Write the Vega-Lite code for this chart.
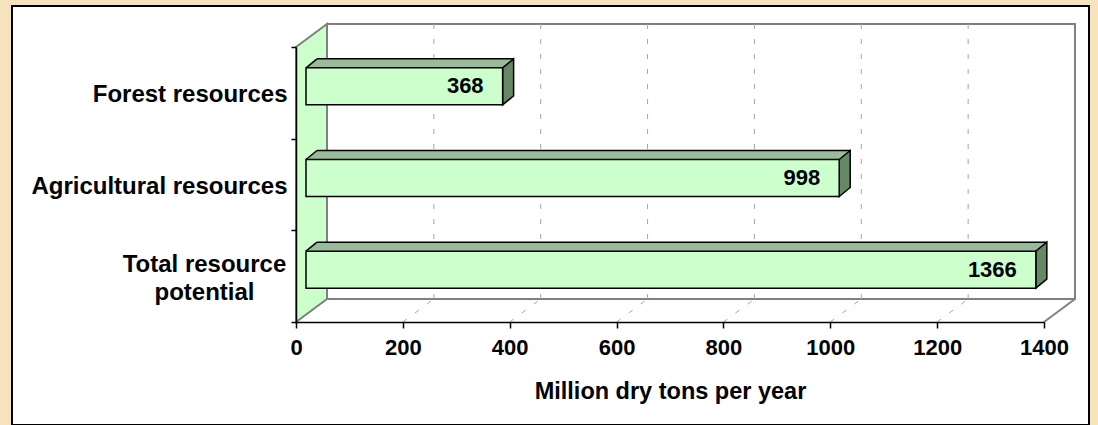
{
  "$schema": "https://vega.github.io/schema/vega-lite/v6.json",
  "width": 1077,
  "height": 419,
  "autosize": {"type": "none"},
  "padding": {"left": 12, "top": 6, "right": 9, "bottom": 0},
  "background": "#f6e2bd",
  "config": {
    "view": {"fill": "white", "stroke": "black", "strokeWidth": 2},
    "font": "Liberation Sans"
  },
  "datasets": {
    "bars": [
      {"category": "Forest resources", "tons": 368},
      {"category": "Agricultural resources", "tons": 998},
      {"category": "Total resource potential", "tons": 1366}
    ],
    "ticks": [{"t": 200}, {"t": 400}, {"t": 600}, {"t": 800}, {"t": 1000}, {"t": 1200}],
    "frame": [{"part": "frame"}]
  },
  "resolve": {"scale": {"y": "independent"}},
  "layer": [
    {
      "data": {"name": "frame"},
      "mark": {"type": "rect", "fill": "white", "stroke": "#808080", "strokeWidth": 2, "xOffset": 31, "x2Offset": 31, "yOffset": -23, "y2Offset": -23},
      "encoding": {
        "x": {
          "datum": 0,
          "type": "quantitative",
          "scale": {"domain": [0, 1400], "range": [284, 1032], "nice": false, "zero": false},
          "axis": {
            "title": "Million dry tons per year",
            "orient": "bottom",
            "offset": -103,
            "values": [0, 200, 400, 600, 800, 1000, 1200, 1400],
            "format": "d",
            "grid": false,
            "domainColor": "black",
            "domainWidth": 1.5,
            "tickColor": "black",
            "tickSize": 6,
            "tickWidth": 1.5,
            "labelFont": "Liberation Sans",
            "labelFontSize": 22,
            "labelFontWeight": "bold",
            "labelColor": "black",
            "labelPadding": 9,
            "labelFlush": false,
            "labelOverlap": false,
            "titleFont": "Liberation Sans",
            "titleFontSize": 23.5,
            "titleFontWeight": "bold",
            "titleColor": "black",
            "titlePadding": 21,
            "zindex": 1
          }
        },
        "x2": {"datum": 1400},
        "y": {"datum": 1, "type": "quantitative", "scale": {"domain": [0, 1], "range": [316, 41], "nice": false, "zero": false}, "axis": null},
        "y2": {"datum": 0}
      }
    },
    {
      "data": {"name": "ticks"},
      "mark": {"type": "rule", "color": "#a6a6a6", "strokeWidth": 1, "strokeDash": [5, 10], "xOffset": 31, "yOffset": -23, "y2Offset": -23},
      "encoding": {
        "x": {"field": "t", "type": "quantitative"},
        "y": {"datum": 1, "type": "quantitative", "scale": {"domain": [0, 1], "range": [316, 41], "nice": false, "zero": false}, "axis": null},
        "y2": {"datum": 0}
      }
    },
    {
      "data": {"name": "ticks"},
      "mark": {"type": "rule", "color": "#a6a6a6", "strokeWidth": 1, "strokeDash": [5, 10], "x2Offset": 31, "y2Offset": -23},
      "encoding": {
        "x": {"field": "t", "type": "quantitative"},
        "x2": {"field": "t"},
        "y": {"datum": 0, "type": "quantitative", "scale": {"domain": [0, 1], "range": [316, 41], "nice": false, "zero": false}, "axis": null},
        "y2": {"datum": 0}
      }
    },
    {
      "data": {"name": "frame"},
      "mark": {"type": "rule", "color": "#808080", "strokeWidth": 2, "x2Offset": 31, "y2Offset": -23},
      "encoding": {
        "x": {"datum": 1400, "type": "quantitative"},
        "x2": {"datum": 1400},
        "y": {"datum": 0, "type": "quantitative", "scale": {"domain": [0, 1], "range": [316, 41], "nice": false, "zero": false}, "axis": null},
        "y2": {"datum": 0}
      }
    },
    {
      "data": {"name": "frame"},
      "mark": {"type": "point", "shape": "M0,0L31,-23L31,252L0,275Z", "size": 4, "filled": true, "fill": "#ccffcc", "stroke": "#808080", "strokeWidth": 2, "opacity": 1},
      "encoding": {
        "x": {"datum": 0, "type": "quantitative"},
        "y": {"datum": 1, "type": "quantitative", "scale": {"domain": [0, 1], "range": [316, 41], "nice": false, "zero": false}, "axis": null}
      }
    },
    {
      "data": {"name": "bars"},
      "mark": {"type": "bar", "color": "#99bb99", "height": 9, "yOffset": -29.5, "xOffset": 10.5, "x2Offset": 21},
      "encoding": {
        "y": {"field": "category", "type": "nominal", "sort": ["Forest resources", "Agricultural resources", "Total resource potential"], "scale": {"range": [41, 316], "paddingInner": 0, "paddingOuter": 0}, "axis": null},
        "x": {"field": "tons", "type": "quantitative", "stack": null},
        "x2": {"datum": 0}
      }
    },
    {
      "data": {"name": "bars"},
      "mark": {"type": "point", "shape": "M0,0L11,-9L11.6,-9L11.6,0Z", "size": 4, "filled": true, "fill": "#99bb99", "strokeWidth": 0, "opacity": 1, "xOffset": 10, "yOffset": -25},
      "encoding": {
        "y": {"field": "category", "type": "nominal", "sort": ["Forest resources", "Agricultural resources", "Total resource potential"], "scale": {"range": [41, 316], "paddingInner": 0, "paddingOuter": 0}, "axis": null},
        "x": {"datum": 0, "type": "quantitative"}
      }
    },
    {
      "data": {"name": "bars"},
      "mark": {"type": "point", "shape": "M0,0L11,-9L0,-9Z", "size": 4, "filled": true, "fill": "#99bb99", "strokeWidth": 0, "opacity": 1, "xOffset": 10, "yOffset": -25},
      "encoding": {
        "y": {"field": "category", "type": "nominal", "sort": ["Forest resources", "Agricultural resources", "Total resource potential"], "scale": {"range": [41, 316], "paddingInner": 0, "paddingOuter": 0}, "axis": null},
        "x": {"field": "tons", "type": "quantitative"}
      }
    },
    {
      "data": {"name": "bars"},
      "mark": {"type": "point", "shape": "M0,0L11,-9L11,28L0,37Z", "size": 4, "filled": true, "fill": "#668866", "stroke": "black", "strokeWidth": 1.5, "opacity": 1, "xOffset": 10, "yOffset": -25},
      "encoding": {
        "y": {"field": "category", "type": "nominal", "sort": ["Forest resources", "Agricultural resources", "Total resource potential"], "scale": {"range": [41, 316], "paddingInner": 0, "paddingOuter": 0}, "axis": null},
        "x": {"field": "tons", "type": "quantitative"}
      }
    },
    {
      "data": {"name": "bars"},
      "mark": {"type": "bar", "fill": "#ccffcc", "stroke": "black", "strokeWidth": 1.5, "height": 37, "yOffset": -6.5, "xOffset": 10, "x2Offset": 10},
      "encoding": {
        "y": {
          "field": "category",
          "type": "nominal",
          "sort": ["Forest resources", "Agricultural resources", "Total resource potential"],
          "scale": {"range": [41, 316], "paddingInner": 0, "paddingOuter": 0},
          "axis": {
            "title": null,
            "orient": "left",
            "offset": -284,
            "domainColor": "black",
            "domainWidth": 1.5,
            "tickColor": "black",
            "tickSize": 5,
            "tickWidth": 1.5,
            "tickBand": "extent",
            "labelFont": "Liberation Sans",
            "labelFontSize": 24,
            "labelFontWeight": "bold",
            "labelColor": "black",
            "labelLimit": 0,
            "labelLineHeight": 28,
            "labelExpr": "datum.value === 'Total resource potential' ? ['Total resource', 'potential'] : datum.value",
            "labelAlign": {"condition": {"test": "datum.value === 'Total resource potential'", "value": "center"}, "value": "right"},
            "labelPadding": {"condition": {"test": "datum.value === 'Total resource potential'", "value": 87}, "value": 4},
            "labelOffset": {"condition": {"test": "datum.value === 'Total resource potential'", "value": -12}, "value": 2},
            "zindex": 1
          }
        },
        "x": {"field": "tons", "type": "quantitative", "stack": null},
        "x2": {"datum": 0}
      }
    },
    {
      "data": {"name": "bars"},
      "mark": {"type": "point", "shape": "M0,0L11,-9", "size": 4, "filled": false, "stroke": "black", "strokeWidth": 1.5, "opacity": 1, "xOffset": 10, "yOffset": -25},
      "encoding": {
        "y": {"field": "category", "type": "nominal", "sort": ["Forest resources", "Agricultural resources", "Total resource potential"], "scale": {"range": [41, 316], "paddingInner": 0, "paddingOuter": 0}, "axis": null},
        "x": {"datum": 0, "type": "quantitative"}
      }
    },
    {
      "data": {"name": "bars"},
      "mark": {"type": "rule", "color": "black", "strokeWidth": 1.5, "xOffset": 21, "x2Offset": 21, "yOffset": -34},
      "encoding": {
        "y": {"field": "category", "type": "nominal", "sort": ["Forest resources", "Agricultural resources", "Total resource potential"], "scale": {"range": [41, 316], "paddingInner": 0, "paddingOuter": 0}, "axis": null},
        "x": {"field": "tons", "type": "quantitative"},
        "x2": {"datum": 0}
      }
    },
    {
      "data": {"name": "bars"},
      "mark": {"type": "text", "align": "right", "baseline": "middle", "font": "Liberation Sans", "fontSize": 22, "fontWeight": "bold", "color": "black", "xOffset": -9, "yOffset": -6.5},
      "encoding": {
        "y": {"field": "category", "type": "nominal", "sort": ["Forest resources", "Agricultural resources", "Total resource potential"], "scale": {"range": [41, 316], "paddingInner": 0, "paddingOuter": 0}, "axis": null},
        "x": {"field": "tons", "type": "quantitative"},
        "text": {"field": "tons", "type": "quantitative"}
      }
    }
  ]
}
